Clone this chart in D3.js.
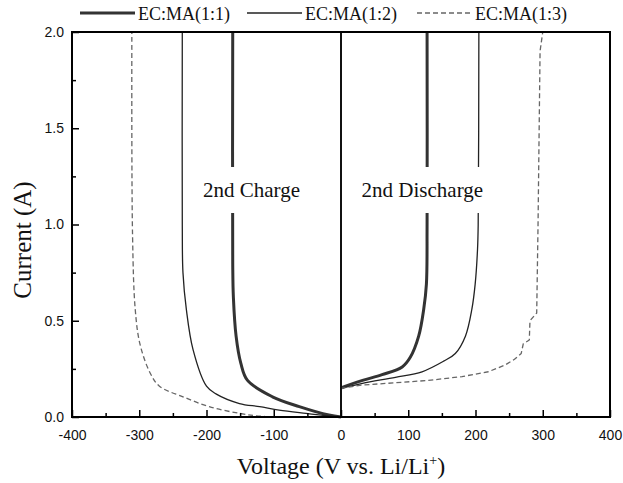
<!DOCTYPE html>
<html lang="en">
<head>
<meta charset="utf-8">
<script src="https://d3js.org/d3.v7.min.js"></script>
<style>
  body { margin: 0; background: white; }
  .tick text { font-family: "Liberation Sans", Arial, sans-serif; font-size: 14px; fill: #111; }
  .serif { font-family: "Liberation Serif", "Times New Roman", serif; fill: #111; }
</style>
</head>
<body>
<script>
// series labels
var seriesNames = ["EC:MA(1:1)", "EC:MA(1:2)", "EC:MA(1:3)"];

// 2nd charge (negative voltage), [V, A]
var charge11 = [[0,0],[-18,0.01],[-62,0.054],[-102,0.105],[-139,0.19],[-149,0.28],[-156,0.42],[-160,0.62],[-161,0.8],[-161,2.0]];
var charge12 = [[0,0],[-8,0.002],[-52,0.019],[-92,0.036],[-121,0.054],[-151,0.07],[-186,0.12],[-200,0.16],[-220,0.35],[-230,0.56],[-235,0.75],[-236,1.0],[-236,2.0]];
var charge13 = [[0,0],[-112,0.002],[-151,0.019],[-196,0.054],[-235,0.105],[-270,0.16],[-284,0.23],[-299,0.38],[-306,0.56],[-310,0.95],[-311,2.0]];

// 2nd discharge (positive voltage), [V, A]
var discharge11 = [[0,0.15],[2,0.154],[32,0.19],[61,0.22],[91,0.26],[103,0.31],[115.5,0.42],[123,0.56],[127,0.69],[128,1.0],[128,2.0]];
var discharge12 = [[0,0.145],[2,0.149],[32,0.175],[81,0.206],[120.5,0.235],[152.6,0.29],[170,0.33],[185,0.42],[194.6,0.56],[199.5,0.69],[203,0.87],[204,1.0],[205,2.0]];
var discharge13 = [[0,0.145],[2,0.15],[32,0.166],[81,0.178],[130,0.19],[180,0.21],[219,0.235],[244,0.27],[258,0.3],[268,0.33],[271,0.38],[280,0.4],[281,0.5],[291,0.54],[293,1.0],[296,1.9],[300,2.0]];

var xTicks = [-400,-300,-200,-100,0,100,200,300,400];
var yTicks = [0.0,0.5,1.0,1.5,2.0];

var W = 623, H = 483;
var mLeft = 72, mRight = 610, mTop = 32, mBottom = 417;

var svg = d3.select("body").append("svg")
  .attr("width", W).attr("height", H);

var x = d3.scaleLinear().domain([-400, 400]).range([mLeft, mRight]);
var y = d3.scaleLinear().domain([0, 2]).range([mBottom, mTop]);

var smooth = d3.line()
  .x(function (d) { return x(d[0]); })
  .y(function (d) { return y(d[1]); })
  .curve(d3.curveCatmullRom.alpha(0.5));
var straight = d3.line()
  .x(function (d) { return x(d[0]); })
  .y(function (d) { return y(d[1]); });

// curves
var styles = [
  { w: 3, c: "#333", dash: null },
  { w: 1.3, c: "#222", dash: null },
  { w: 1.3, c: "#666", dash: "5,3" }
];
var chargeSets = [charge11, charge12, charge13];
var dischargeSets = [discharge11, discharge12, discharge13];

[chargeSets, dischargeSets].forEach(function (sets, k) {
  sets.forEach(function (s, i) {
    var gen = (k === 1 && i === 2) ? straight : smooth;
    svg.append("path")
      .attr("d", gen(s))
      .attr("fill", "none")
      .attr("stroke", styles[i].c)
      .attr("stroke-width", styles[i].w)
      .attr("stroke-dasharray", styles[i].dash)
      .attr("stroke-linejoin", "round");
  });
});

// vertical line at 0 V
svg.append("line")
  .attr("x1", x(0)).attr("x2", x(0))
  .attr("y1", y(0)).attr("y2", y(2))
  .attr("stroke", "#111").attr("stroke-width", 2);

// labels with white background
function boxLabel(txt, cx, cy, w) {
  svg.append("rect")
    .attr("x", cx - w / 2).attr("y", cy - 23)
    .attr("width", w).attr("height", 46)
    .attr("fill", "white");
  svg.append("text")
    .attr("class", "serif")
    .attr("x", cx).attr("y", cy + 7)
    .attr("text-anchor", "middle")
    .style("font-size", "21px")
    .text(txt);
}
boxLabel("2nd Charge", x(-133), 190, 122);
boxLabel("2nd Discharge", x(121), 190, 152);

function fmtX(d) { return xTicks.indexOf(d) >= 0 ? String(d) : ""; }
function isMajorY(d) { return yTicks.some(function (t) { return Math.abs(t - d) < 1e-6; }); }

// axes (ticks inward)
var xAxis = svg.append("g")
  .attr("transform", "translate(0," + mBottom + ")")
  .call(d3.axisBottom(x).tickValues(d3.range(-400, 401, 50)).tickSize(-4).tickPadding(13).tickFormat(fmtX));
xAxis.selectAll(".tick line").attr("y2", function (d) { return d % 100 === 0 ? -7 : -4; })
  .attr("stroke-width", 1.5);
xAxis.select(".domain").remove();

var yAxis = svg.append("g")
  .attr("transform", "translate(" + mLeft + ",0)")
  .call(d3.axisLeft(y).tickValues(d3.range(0, 2.01, 0.25)).tickSize(-4).tickPadding(8)
    .tickFormat(function (d) { return isMajorY(d) ? d.toFixed(1) : ""; }));
yAxis.selectAll(".tick line").attr("x2", function (d) { return isMajorY(d) ? 7 : 4; })
  .attr("stroke-width", 1.5);
yAxis.select(".domain").remove();

// frame
svg.append("rect")
  .attr("x", mLeft).attr("y", mTop)
  .attr("width", mRight - mLeft).attr("height", mBottom - mTop)
  .attr("fill", "none").attr("stroke", "black").attr("stroke-width", 2);

// axis titles
svg.append("text")
  .attr("class", "serif")
  .attr("x", x(0)).attr("y", 474)
  .attr("text-anchor", "middle")
  .style("font-size", "24px")
  .html('Voltage (V vs. Li/Li<tspan dy="-9" font-size="14px">+</tspan><tspan dy="9">)</tspan>');

svg.append("text")
  .attr("class", "serif")
  .attr("transform", "translate(31,240) rotate(-90)")
  .attr("text-anchor", "middle")
  .style("font-size", "25px")
  .text("Current (A)");

// legend
var legX = [80, 247, 417];
seriesNames.forEach(function (n, i) {
  svg.append("line")
    .attr("x1", legX[i]).attr("x2", legX[i] + 55)
    .attr("y1", 13).attr("y2", 13)
    .attr("stroke", styles[i].c)
    .attr("stroke-width", styles[i].w)
    .attr("stroke-dasharray", styles[i].dash);
  svg.append("text")
    .attr("class", "serif")
    .attr("x", legX[i] + 58).attr("y", 20)
    .style("font-size", "18px")
    .text(n);
});
</script>
</body>
</html>
